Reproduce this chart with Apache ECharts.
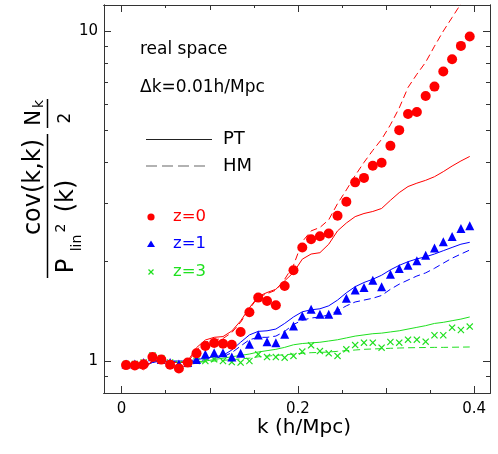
<!DOCTYPE html>
<html><head><meta charset="utf-8">
<script src="https://cdn.jsdelivr.net/npm/echarts@6/dist/echarts.min.js"></script>
<style>html,body{margin:0;padding:0;background:#fff}#c{width:498px;height:454px}</style>
</head><body><div id="c"></div>
<script>
// ---- data ----
const kBins = [0.005,0.015,0.025,0.035,0.045,0.055,0.065,0.075,0.085,0.095,0.105,0.115,0.125,0.135,0.145,0.155,0.165,0.175,0.185,0.195,0.205,0.215,0.225,0.235,0.245,0.255,0.265,0.275,0.285,0.295,0.305,0.315,0.325,0.335,0.345,0.355,0.365,0.375,0.385,0.395];

const z0Sim = [0.972,0.97,0.977,1.028,1.01,0.975,0.95,0.989,1.055,1.11, 1.134,1.129,1.121,1.225,1.405,1.557,1.52,1.476,1.689,1.885, 2.21,2.34,2.39,2.436,2.755,3.04,3.48,3.59,3.91,3.99, 4.49,5.01,5.61,5.69,6.36,6.79,7.54,8.22,9.02,9.63];
const z0PT  = [0.98,0.97,0.94,1.0,1.0,0.99,0.99,1.0,1.098,1.158, 1.18,1.186,1.233,1.323,1.45,1.569,1.613,1.65,1.75,1.855, 2.036,2.11,2.13,2.26,2.48,2.62,2.74,2.80,2.84,2.9, 3.07,3.24,3.38,3.46,3.53,3.62,3.75,3.9,4.04,4.17];
const z0HM  = [0.98,0.96,0.95,1.0,1.0,0.99,0.99,0.99,1.08,1.14, 1.16,1.17,1.22,1.31,1.44,1.56,1.60,1.64,1.77,1.95, 2.30,2.48,2.54,2.68,3.0,3.3,3.65,4.0,4.35,4.7, 5.2,5.85,6.75,7.4,8.05,9.0,10.0,11.0,12.1,13.3];

const z1Sim = [0.98,0.98,0.99,1.03,1.01,0.99,0.98,0.99,1.01,1.048, 1.06,1.06,1.028,1.055,1.124,1.2,1.145,1.137,1.205,1.277, 1.369,1.435,1.386,1.386,1.425,1.55,1.643,1.67,1.758,1.678, 1.833,1.908,1.952,2.012,2.094,2.2,2.298,2.386,2.52,2.57];
const z1PT  = [0.98,0.97,0.97,0.99,1.0,1.0,1.0,1.0,1.01,1.02, 1.03,1.04,1.08,1.14,1.2,1.23,1.235,1.25,1.3,1.36, 1.41,1.43,1.44,1.47,1.53,1.61,1.68,1.73,1.77,1.82, 1.89,1.95,2.0,2.04,2.07,2.11,2.16,2.21,2.26,2.29];
const z1HM  = [0.98,0.97,0.97,0.99,1.0,1.0,0.99,0.99,1.0,1.01, 1.02,1.03,1.06,1.11,1.16,1.18,1.18,1.19,1.23,1.29, 1.33,1.35,1.36,1.38,1.42,1.47,1.51,1.53,1.55,1.58, 1.65,1.71,1.76,1.81,1.85,1.91,1.98,2.05,2.11,2.17];

const z3Sim = [0.98,0.98,0.99,1.04,1.02,0.99,0.98,0.98,1.0,1.0, 1.012,1.0,0.993,0.989,1.0,1.048,1.028,1.028,1.024,1.036, 1.068,1.116,1.072,1.055,1.036,1.085,1.118,1.137,1.137,1.098, 1.142,1.137,1.161,1.161,1.145,1.197,1.197,1.262,1.242,1.272];
const z3PT  = [0.98,0.96,0.95,1.0,1.0,0.99,0.99,0.99,0.995,1.0, 1.01,1.02,1.03,1.04,1.05,1.065,1.075,1.085,1.1,1.12, 1.13,1.135,1.14,1.15,1.16,1.175,1.19,1.2,1.21,1.215, 1.225,1.235,1.25,1.265,1.28,1.3,1.31,1.325,1.34,1.36];
const z3HM  = [0.98,0.96,0.95,1.0,1.0,0.99,0.99,0.99,0.99,0.995, 1.0,1.005,1.01,1.015,1.02,1.03,1.035,1.04,1.045,1.05, 1.055,1.06,1.062,1.065,1.07,1.075,1.08,1.085,1.088,1.09, 1.093,1.095,1.097,1.098,1.099,1.1,1.1,1.101,1.102,1.103];

const xMajorTicks = [0, 0.2, 0.4];
const xMidTicks = [0.1, 0.3];
const xMinorTicks = [0.05, 0.15, 0.25, 0.35];
const yMajorTicks = [1, 10];
const yMinorTicks = [0.9, 2, 3, 4, 5, 6, 7, 8, 9];
const X_MIN = -0.02, X_MAX = 0.418, Y_MIN = 0.8, Y_MAX = 12;

// ---- styling ----
const RED = '#ff0000', BLUE = '#0000ff', GREEN = '#1fe01f';
const FONT = 'DejaVu Sans';
const AX = '#333';
const CROSS = 'path://M0,1.2L1.2,0L5,3.8L8.8,0L10,1.2L6.2,5L10,8.8L8.8,10L5,6.2L1.2,10L0,8.8L3.8,5Z';

const pairs = ys => kBins.map((k, i) => [k, ys[i]]);
const L10 = v => Math.log10(v);

function xAx(pos, ticks, len, withLabels) {
  return {
    type: 'value', position: pos, min: X_MIN, max: X_MAX,
    axisLine: { show: true, onZero: false, lineStyle: { color: AX, width: 1 } },
    splitLine: { show: false },
    axisTick: { show: true, inside: true, length: len, customValues: ticks, lineStyle: { color: AX, width: 1 } },
    axisLabel: withLabels ? { show: true, customValues: xMajorTicks, margin: 9, color: '#000',
      fontFamily: FONT, fontSize: 15, formatter: v => (v === 0 ? '0' : String(+v.toFixed(2))) } : { show: false }
  };
}
function yAx(pos, ticks, len, withLabels) {
  return {
    type: 'value', position: pos, min: L10(Y_MIN), max: L10(Y_MAX),
    axisLine: { show: true, onZero: false, lineStyle: { color: AX, width: 1 } },
    splitLine: { show: false },
    axisTick: { show: true, inside: true, length: len, customValues: ticks.map(L10), lineStyle: { color: AX, width: 1 } },
    axisLabel: withLabels ? { show: true, customValues: yMajorTicks.map(L10), margin: 6, color: '#000',
      fontFamily: FONT, fontSize: 15, formatter: v => String(Math.round(Math.pow(10, v))) } : { show: false }
  };
}

const lineS = (data, color, dashed, name) => ({
  name, type: 'line', xAxisIndex: 0, yAxisIndex: 0, data: pairs(data), showSymbol: false, symbol: 'none',
  lineStyle: { color, width: 1, type: dashed ? [7, 4] : 'solid' }, clip: true, z: 2, silent: true
});
const scatS = (data, color, symbol, size, name) => ({
  name, type: 'scatter', xAxisIndex: 0, yAxisIndex: 0, data: pairs(data), symbol, symbolSize: size,
  itemStyle: { color, opacity: 1 }, z: 3, silent: true
});

const T = (text, x, y, size, color, extra) => Object.assign({
  type: 'text', x, y, style: { text, fontFamily: FONT, fontSize: size, fill: color || '#000',
    align: 'left', verticalAlign: 'middle' }
}, extra || {});
const R = (text, x, y, size) => ({
  type: 'text', x, y, rotation: Math.PI / 2,
  style: { text, fontFamily: FONT, fontSize: size, fill: '#000', align: 'center', verticalAlign: 'middle' }
});

const chart = echarts.init(document.getElementById('c'), null, { renderer: 'canvas' });
chart.setOption({
  animation: false,
  backgroundColor: '#fff',
  grid: { left: 104, right: 8, top: 5, bottom: 61, containLabel: false },
  xAxis: [
    xAx('bottom', xMajorTicks, 7, true),
    xAx('bottom', xMidTicks, 5, false),
    xAx('bottom', xMinorTicks, 3, false),
    xAx('top', xMajorTicks, 7, false),
    xAx('top', xMidTicks, 5, false),
    xAx('top', xMinorTicks, 3, false)
  ],
  yAxis: [
    { type: 'log', logBase: 10, min: Y_MIN, max: Y_MAX, position: 'left',
      axisLine: { show: false }, axisTick: { show: false }, axisLabel: { show: false }, splitLine: { show: false } },
    yAx('left', yMajorTicks, 7, true),
    yAx('left', yMinorTicks, 4, false),
    yAx('right', yMajorTicks, 7, false),
    yAx('right', yMinorTicks, 4, false)
  ],
  series: [
    lineS(z3PT, GREEN, false, 'z=3 PT'),
    lineS(z3HM, GREEN, true, 'z=3 HM'),
    lineS(z1PT, BLUE, false, 'z=1 PT'),
    lineS(z1HM, BLUE, true, 'z=1 HM'),
    lineS(z0PT, RED, false, 'z=0 PT'),
    lineS(z0HM, RED, true, 'z=0 HM'),
    scatS(z3Sim, GREEN, CROSS, 7, 'z=3'),
    scatS(z1Sim, BLUE, 'triangle', 9, 'z=1'),
    scatS(z0Sim, RED, 'circle', 10, 'z=0')
  ],
  graphic: [
    T('real space', 140, 50, 17),
    T('\u0394k=0.01h/Mpc', 140, 88, 17),
    { type: 'line', shape: { x1: 146, y1: 139.5, x2: 212, y2: 139.5 }, style: { stroke: '#222', lineWidth: 1 } },
    T('PT', 223, 139.5, 18),
    { type: 'line', shape: { x1: 146, y1: 166, x2: 210, y2: 166 }, style: { stroke: '#666', lineWidth: 1.2, lineDash: [11, 5] } },
    T('HM', 223, 166, 18),
    { type: 'circle', shape: { cx: 151, cy: 217, r: 3.6 }, style: { fill: RED } },
    T('z=0', 173, 217, 16.5, RED),
    { type: 'polygon', shape: { points: [[151, 240.5], [155, 247], [147, 247]] }, style: { fill: BLUE } },
    T('z=1', 173, 244, 16.5, BLUE),
    { type: 'group', children: [
      { type: 'line', shape: { x1: 148.5, y1: 269.5, x2: 153.5, y2: 274.5 }, style: { stroke: GREEN, lineWidth: 1.2 } },
      { type: 'line', shape: { x1: 153.5, y1: 269.5, x2: 148.5, y2: 274.5 }, style: { stroke: GREEN, lineWidth: 1.2 } }
    ] },
    T('z=3', 173, 272, 16.5, GREEN),
    { type: 'text', x: 304, y: 428, style: { text: 'k (h/Mpc)', fontFamily: FONT, fontSize: 20, fill: '#000', align: 'center', verticalAlign: 'middle' } },
    // y-axis title: cov(k,k)/P_lin^2(k) * N_k/2
    R('cov(k,k)', 34, 187, 24),
    { type: 'line', shape: { x1: 47.5, y1: 134, x2: 47.5, y2: 278 }, style: { stroke: '#000', lineWidth: 1.5 } },
    R('P', 67, 266, 24),
    R('lin', 77, 243, 14),
    R('2', 61, 228, 14),
    R('(k)', 67, 196, 24),
    R('N', 35, 118, 21),
    R('k', 39, 104, 14),
    { type: 'line', shape: { x1: 47.5, y1: 99, x2: 47.5, y2: 128 }, style: { stroke: '#000', lineWidth: 1.5 } },
    R('2', 66, 118, 17)
  ]
});
</script>
</body></html>
